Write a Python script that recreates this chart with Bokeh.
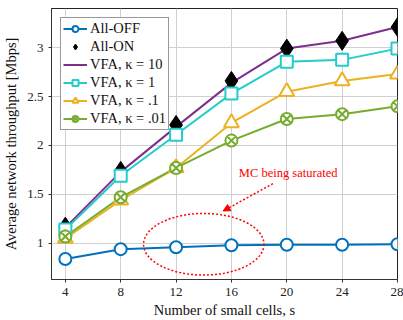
from bokeh.plotting import figure
from bokeh.models import Range1d, FixedTicker, Legend, LegendItem, Arrow, NormalHead, Label
from bokeh.embed import file_html
from bokeh.resources import INLINE

cells = [4, 8, 12, 16, 20, 24, 28]
all_off = [0.84, 0.94, 0.96, 0.98, 0.985, 0.985, 0.99]
all_on = [1.17, 1.74, 2.21, 2.66, 2.99, 3.07, 3.21]
vfa_10 = [1.16, 1.73, 2.19, 2.64, 2.99, 3.07, 3.21]
vfa_1 = [1.14, 1.69, 2.11, 2.53, 2.855, 2.875, 2.99]
vfa_01 = [1.05, 1.44, 1.77, 2.23, 2.55, 2.66, 2.73]
vfa_001 = [1.07, 1.47, 1.77, 2.05, 2.27, 2.32, 2.40]

x_ticks = [4, 8, 12, 16, 20, 24, 28]
y_ticks = [1, 1.5, 2, 2.5, 3]

ellipse_center = (14.0, 0.99)
ellipse_size = (8.7, 0.63)
arrow_from = (19.0, 1.61)
arrow_to = (15.4, 1.33)
note_pos = (20.1, 1.715)
note_text = "MC being saturated"

FONT = "Liberation Serif"

p = figure(width=403, height=320, output_backend="svg", toolbar_location=None,
           x_range=Range1d(3.0, 28.0), y_range=Range1d(0.63, 3.4),
           min_border_left=50, min_border_right=6, min_border_top=8, min_border_bottom=38)
p.background_fill_color = "white"
p.outline_line_color = "#222222"
p.outline_line_width = 1

for ax in (p.xaxis, p.yaxis):
    ax.major_label_text_font = FONT
    ax.major_label_text_font_size = "13px"
    ax.major_label_text_color = "#222222"
    ax.axis_label_text_font = FONT
    ax.axis_label_text_font_size = "14.5px"
    ax.axis_label_text_font_style = "normal"
    ax.axis_label_text_color = "#111111"
    ax.axis_line_color = "#333333"
    ax.major_tick_line_color = "#333333"
    ax.minor_tick_line_color = None
    ax.major_tick_in = 0
    ax.major_tick_out = 3
p.xaxis.ticker = FixedTicker(ticks=x_ticks)
p.yaxis.ticker = FixedTicker(ticks=y_ticks)
p.xaxis.axis_label = "Number of small cells, s"
p.yaxis.axis_label = "Average network throughput [Mbps]"
p.xaxis.axis_label_standoff = 3
p.yaxis.axis_label_standoff = 5
p.xgrid.grid_line_color = "#d0d0d0"
p.ygrid.grid_line_color = "#d0d0d0"
p.xgrid.grid_line_width = 1
p.ygrid.grid_line_width = 1

BLUE = "#0072BD"
PURPLE = "#7E2F8E"
CYAN = "#22CCCC"
ORANGE = "#EDB120"
GREEN = "#77AC30"

items = []

l = p.line(cells, all_off, color=BLUE, line_width=2)
m = p.scatter(cells, all_off, marker="circle", size=12, line_color=BLUE, line_width=2, fill_color="white")
items.append(LegendItem(label="All-OFF", renderers=[l, m]))

l10 = p.line(cells, vfa_10, color=PURPLE, line_width=2)

l1 = p.line(cells, vfa_1, color=CYAN, line_width=2)
l01 = p.line(cells, vfa_01, color=ORANGE, line_width=2)
l001 = p.line(cells, vfa_001, color=GREEN, line_width=2)

m_on = p.scatter(cells, all_on, marker="diamond", size=19, line_color="black", fill_color="black")
items.append(LegendItem(label="All-ON", renderers=[m_on]))
items.append(LegendItem(label="VFA, κ = 10", renderers=[l10]))

m1 = p.scatter(cells, vfa_1, marker="square", size=12, line_color=CYAN, line_width=2, fill_color="white")
items.append(LegendItem(label="VFA, κ = 1", renderers=[l1, m1]))
m01 = p.scatter(cells, vfa_01, marker="triangle", size=15, line_color=ORANGE, line_width=2, fill_color="white")
items.append(LegendItem(label="VFA, κ = .1", renderers=[l01, m01]))
m001 = p.scatter(cells, vfa_001, marker="circle_x", size=12, line_color=GREEN, line_width=2, fill_color="white")
items.append(LegendItem(label="VFA, κ = .01", renderers=[l001, m001]))

p.ellipse(x=[ellipse_center[0]], y=[ellipse_center[1]], width=[ellipse_size[0]], height=[ellipse_size[1]],
          fill_color=None, line_color="red", line_width=1.5, line_dash="2 2")
p.add_layout(Arrow(x_start=arrow_from[0], y_start=arrow_from[1], x_end=arrow_to[0], y_end=arrow_to[1],
                   line_color="red", line_width=1.5, line_dash="2 2",
                   end=NormalHead(size=7, fill_color="red", line_color="red", line_width=1)))
p.add_layout(Label(x=note_pos[0], y=note_pos[1], text=note_text, text_color="red",
                   text_font=FONT, text_font_size="12.5px", text_align="center", text_baseline="middle"))

legend = Legend(items=items, location="top_left")
legend.label_text_font = FONT
legend.label_text_font_size = "14.5px"
legend.label_text_color = "#111111"
legend.border_line_color = "#333333"
legend.border_line_width = 1
legend.background_fill_alpha = 1
legend.glyph_width = 24
legend.glyph_height = 15
legend.label_height = 15
legend.spacing = 1
legend.padding = 2
legend.margin = 9
legend.label_standoff = 3
p.add_layout(legend)

open("out.html", "w").write(file_html(p, INLINE))
